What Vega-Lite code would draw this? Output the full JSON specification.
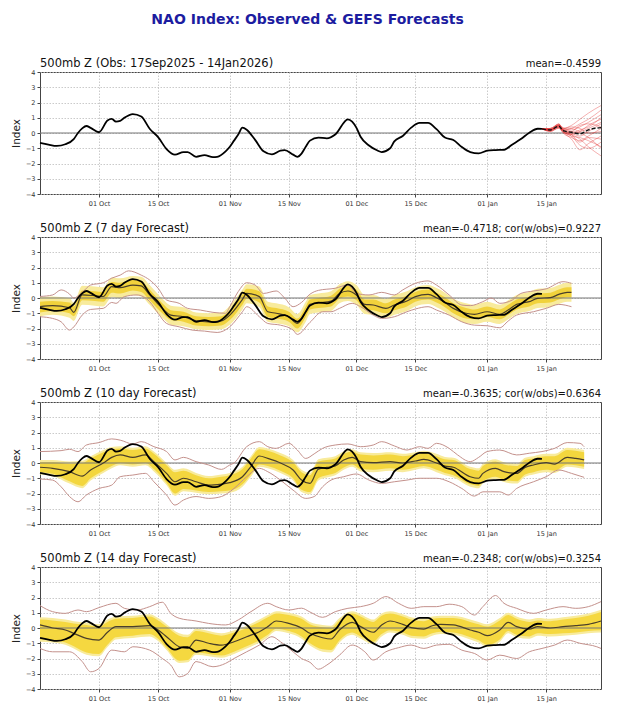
{
"$schema":"https://vega.github.io/schema/vega-lite/v6.json",
"background":"white",
"padding":{"left":10,"top":12,"right":20,"bottom":4},
"title":{"text":"NAO Index: Observed & GEFS Forecasts","anchor":"middle","frame":"bounds","fontSize":14,"fontWeight":"bold","color":"#1c1ca0","offset":31},
"spacing":15,
"config":{
"font":"DejaVu Sans",
"view":{"stroke":"#444","strokeWidth":1},
"axis":{"labelFontSize":6.5,"labelColor":"#333","tickColor":"#444","tickSize":3,"domain":false,"grid":true,"gridColor":"#bdbdbd","gridDash":[1.5,1.5],"gridWidth":0.8,"labelPadding":2},
"axisX":{"labelPadding":3},
"axisY":{"titleFontSize":10.5,"titleFontWeight":"normal","titleColor":"#222","titlePadding":4},
"text":{"color":"#111","baseline":"bottom","dy":-3},
"line":{"interpolate":"monotone"},
"area":{"interpolate":"monotone"}
},
"datasets":{
"obs":[
{"date":"2025-09-17","v":-0.64},{"date":"2025-09-19","v":-0.76},{"date":"2025-09-21","v":-0.85},{"date":"2025-09-23","v":-0.74},{"date":"2025-09-25","v":-0.4},{"date":"2025-09-26","v":0.0},{"date":"2025-09-27","v":0.3},{"date":"2025-09-28","v":0.46},{"date":"2025-09-29","v":0.34},{"date":"2025-10-01","v":0.05},{"date":"2025-10-03","v":0.82},{"date":"2025-10-04","v":0.92},{"date":"2025-10-05","v":0.75},{"date":"2025-10-06","v":0.79},{"date":"2025-10-07","v":1.0},{"date":"2025-10-09","v":1.24},{"date":"2025-10-11","v":1.08},{"date":"2025-10-13","v":0.28},{"date":"2025-10-15","v":-0.27},{"date":"2025-10-17","v":-1.05},{"date":"2025-10-19","v":-1.42},{"date":"2025-10-21","v":-1.25},{"date":"2025-10-22","v":-1.25},{"date":"2025-10-24","v":-1.56},{"date":"2025-10-26","v":-1.45},{"date":"2025-10-28","v":-1.58},{"date":"2025-10-29","v":-1.56},{"date":"2025-10-31","v":-1.2},{"date":"2025-11-01","v":-0.9},{"date":"2025-11-02","v":-0.5},{"date":"2025-11-03","v":-0.1},{"date":"2025-11-04","v":0.35},{"date":"2025-11-05","v":0.22},{"date":"2025-11-07","v":-0.45},{"date":"2025-11-09","v":-1.2},{"date":"2025-11-11","v":-1.4},{"date":"2025-11-13","v":-1.15},{"date":"2025-11-14","v":-1.12},{"date":"2025-11-16","v":-1.42},{"date":"2025-11-17","v":-1.56},{"date":"2025-11-18","v":-1.35},{"date":"2025-11-19","v":-0.9},{"date":"2025-11-20","v":-0.5},{"date":"2025-11-22","v":-0.3},{"date":"2025-11-24","v":-0.35},{"date":"2025-11-26","v":-0.1},{"date":"2025-11-29","v":0.9},{"date":"2025-11-30","v":0.75},{"date":"2025-12-01","v":0.35},{"date":"2025-12-02","v":-0.25},{"date":"2025-12-04","v":-0.82},{"date":"2025-12-06","v":-1.15},{"date":"2025-12-07","v":-1.25},{"date":"2025-12-09","v":-1.0},{"date":"2025-12-10","v":-0.55},{"date":"2025-12-12","v":-0.2},{"date":"2025-12-14","v":0.35},{"date":"2025-12-16","v":0.66},{"date":"2025-12-18","v":0.66},{"date":"2025-12-20","v":0.25},{"date":"2025-12-22","v":-0.3},{"date":"2025-12-24","v":-0.46},{"date":"2025-12-26","v":-0.92},{"date":"2025-12-28","v":-1.25},{"date":"2025-12-30","v":-1.33},{"date":"2026-01-01","v":-1.16},{"date":"2026-01-03","v":-1.12},{"date":"2026-01-05","v":-1.1},{"date":"2026-01-07","v":-0.75},{"date":"2026-01-09","v":-0.4},{"date":"2026-01-11","v":0.02},{"date":"2026-01-13","v":0.28},{"date":"2026-01-14","v":0.27}
],
"labels":[
{"p":"obs","a":"l","t":"500mb Z (Obs: 17Sep2025 - 14Jan2026)","d":"2025-09-17","y":4},
{"p":"obs","a":"r","t":"mean=-0.4599","d":"2026-01-28","y":4},
{"p":"7","a":"l","t":"500mb Z (7 day Forecast)","d":"2025-09-17","y":4},
{"p":"7","a":"r","t":"mean=-0.4718; cor(w/obs)=0.9227","d":"2026-01-28","y":4},
{"p":"10","a":"l","t":"500mb Z (10 day Forecast)","d":"2025-09-17","y":4},
{"p":"10","a":"r","t":"mean=-0.3635; cor(w/obs)=0.6364","d":"2026-01-28","y":4},
{"p":"14","a":"l","t":"500mb Z (14 day Forecast)","d":"2025-09-17","y":4},
{"p":"14","a":"r","t":"mean=-0.2348; cor(w/obs)=0.3254","d":"2026-01-28","y":4}
],
"ens":[
{"m":"1","date":"2026-01-14","v":0.27},{"m":"1","date":"2026-01-16","v":0.25},{"m":"1","date":"2026-01-18","v":0.6},{"m":"1","date":"2026-01-19","v":0.3},{"m":"1","date":"2026-01-21","v":0.5},{"m":"1","date":"2026-01-23","v":0.9},{"m":"1","date":"2026-01-25","v":1.3},{"m":"1","date":"2026-01-28","v":1.8},
{"m":"2","date":"2026-01-14","v":0.27},{"m":"2","date":"2026-01-16","v":0.15},{"m":"2","date":"2026-01-18","v":0.5},{"m":"2","date":"2026-01-19","v":0.2},{"m":"2","date":"2026-01-21","v":0.3},{"m":"2","date":"2026-01-23","v":0.6},{"m":"2","date":"2026-01-25","v":0.9},{"m":"2","date":"2026-01-28","v":1.5},
{"m":"3","date":"2026-01-14","v":0.27},{"m":"3","date":"2026-01-16","v":0.3},{"m":"3","date":"2026-01-18","v":0.55},{"m":"3","date":"2026-01-19","v":0.35},{"m":"3","date":"2026-01-21","v":0.2},{"m":"3","date":"2026-01-23","v":0.4},{"m":"3","date":"2026-01-25","v":0.7},{"m":"3","date":"2026-01-28","v":1.2},
{"m":"4","date":"2026-01-14","v":0.27},{"m":"4","date":"2026-01-16","v":0.2},{"m":"4","date":"2026-01-18","v":0.4},{"m":"4","date":"2026-01-19","v":0.1},{"m":"4","date":"2026-01-21","v":-0.1},{"m":"4","date":"2026-01-23","v":0.1},{"m":"4","date":"2026-01-25","v":0.5},{"m":"4","date":"2026-01-28","v":0.9},
{"m":"5","date":"2026-01-14","v":0.27},{"m":"5","date":"2026-01-16","v":0.1},{"m":"5","date":"2026-01-18","v":0.35},{"m":"5","date":"2026-01-19","v":0.0},{"m":"5","date":"2026-01-21","v":-0.3},{"m":"5","date":"2026-01-23","v":-0.5},{"m":"5","date":"2026-01-25","v":-0.2},{"m":"5","date":"2026-01-28","v":0.3},
{"m":"6","date":"2026-01-14","v":0.27},{"m":"6","date":"2026-01-16","v":0.2},{"m":"6","date":"2026-01-18","v":0.45},{"m":"6","date":"2026-01-19","v":0.2},{"m":"6","date":"2026-01-21","v":0.0},{"m":"6","date":"2026-01-23","v":-0.2},{"m":"6","date":"2026-01-25","v":0.1},{"m":"6","date":"2026-01-28","v":0.6},
{"m":"7","date":"2026-01-14","v":0.27},{"m":"7","date":"2026-01-16","v":0.25},{"m":"7","date":"2026-01-18","v":0.5},{"m":"7","date":"2026-01-19","v":0.1},{"m":"7","date":"2026-01-21","v":-0.2},{"m":"7","date":"2026-01-23","v":-0.8},{"m":"7","date":"2026-01-25","v":-1.0},{"m":"7","date":"2026-01-28","v":-0.6},
{"m":"8","date":"2026-01-14","v":0.27},{"m":"8","date":"2026-01-16","v":0.15},{"m":"8","date":"2026-01-18","v":0.3},{"m":"8","date":"2026-01-19","v":0.05},{"m":"8","date":"2026-01-21","v":-0.4},{"m":"8","date":"2026-01-23","v":-1.1},{"m":"8","date":"2026-01-25","v":-0.7},{"m":"8","date":"2026-01-28","v":-0.2},
{"m":"9","date":"2026-01-14","v":0.27},{"m":"9","date":"2026-01-16","v":0.3},{"m":"9","date":"2026-01-18","v":0.6},{"m":"9","date":"2026-01-19","v":0.25},{"m":"9","date":"2026-01-21","v":0.1},{"m":"9","date":"2026-01-23","v":0.0},{"m":"9","date":"2026-01-25","v":-0.3},{"m":"9","date":"2026-01-28","v":-1.0},
{"m":"10","date":"2026-01-14","v":0.27},{"m":"10","date":"2026-01-16","v":0.2},{"m":"10","date":"2026-01-18","v":0.45},{"m":"10","date":"2026-01-19","v":0.15},{"m":"10","date":"2026-01-21","v":-0.1},{"m":"10","date":"2026-01-23","v":-0.4},{"m":"10","date":"2026-01-25","v":-0.9},{"m":"10","date":"2026-01-28","v":-1.5},
{"m":"11","date":"2026-01-14","v":0.27},{"m":"11","date":"2026-01-16","v":0.2},{"m":"11","date":"2026-01-18","v":0.5},{"m":"11","date":"2026-01-19","v":0.3},{"m":"11","date":"2026-01-21","v":0.4},{"m":"11","date":"2026-01-23","v":0.3},{"m":"11","date":"2026-01-25","v":0.0},{"m":"11","date":"2026-01-28","v":0.1},
{"m":"12","date":"2026-01-14","v":0.27},{"m":"12","date":"2026-01-16","v":0.1},{"m":"12","date":"2026-01-18","v":0.35},{"m":"12","date":"2026-01-19","v":0.2},{"m":"12","date":"2026-01-21","v":0.1},{"m":"12","date":"2026-01-23","v":0.5},{"m":"12","date":"2026-01-25","v":0.6},{"m":"12","date":"2026-01-28","v":0.4},
{"m":"13","date":"2026-01-14","v":0.27},{"m":"13","date":"2026-01-16","v":0.25},{"m":"13","date":"2026-01-18","v":0.55},{"m":"13","date":"2026-01-19","v":0.2},{"m":"13","date":"2026-01-21","v":0.0},{"m":"13","date":"2026-01-23","v":0.2},{"m":"13","date":"2026-01-25","v":0.4},{"m":"13","date":"2026-01-28","v":1.0},
{"m":"14","date":"2026-01-14","v":0.27},{"m":"14","date":"2026-01-16","v":0.2},{"m":"14","date":"2026-01-18","v":0.4},{"m":"14","date":"2026-01-19","v":0.1},{"m":"14","date":"2026-01-21","v":-0.2},{"m":"14","date":"2026-01-23","v":-0.3},{"m":"14","date":"2026-01-25","v":-0.5},{"m":"14","date":"2026-01-28","v":-0.9},
{"m":"15","date":"2026-01-14","v":0.27},{"m":"15","date":"2026-01-16","v":0.3},{"m":"15","date":"2026-01-18","v":0.5},{"m":"15","date":"2026-01-19","v":0.25},{"m":"15","date":"2026-01-21","v":0.3},{"m":"15","date":"2026-01-23","v":0.1},{"m":"15","date":"2026-01-25","v":0.3},{"m":"15","date":"2026-01-28","v":0.7},
{"m":"16","date":"2026-01-14","v":0.27},{"m":"16","date":"2026-01-16","v":0.15},{"m":"16","date":"2026-01-18","v":0.4},{"m":"16","date":"2026-01-19","v":0.1},{"m":"16","date":"2026-01-21","v":-0.1},{"m":"16","date":"2026-01-23","v":-0.6},{"m":"16","date":"2026-01-25","v":-0.3},{"m":"16","date":"2026-01-28","v":-0.4}
],
"ensmean":[
{"date":"2026-01-14","v":0.27},{"date":"2026-01-16","v":0.2},{"date":"2026-01-18","v":0.45},{"date":"2026-01-19","v":0.15},{"date":"2026-01-21","v":0.05},{"date":"2026-01-23","v":-0.05},{"date":"2026-01-25","v":0.2},{"date":"2026-01-28","v":0.35}
],
"band":[
{"p":"7","date":"2025-09-17","mn":-0.57,"lo1":-0.95,"hi1":-0.25,"lo2":-1.2,"hi2":0.05},
{"p":"7","date":"2025-09-20","mn":-0.5,"lo1":-0.85,"hi1":-0.2,"lo2":-1.1,"hi2":0.1},
{"p":"7","date":"2025-09-24","mn":-0.64,"lo1":-1.0,"hi1":-0.3,"lo2":-1.3,"hi2":0.0},
{"p":"7","date":"2025-09-25","mn":-0.94,"lo1":-1.2,"hi1":-0.55,"lo2":-1.5,"hi2":-0.3},
{"p":"7","date":"2025-09-27","mn":0.2,"lo1":-0.15,"hi1":0.5,"lo2":-0.45,"hi2":0.8},
{"p":"7","date":"2025-09-30","mn":0.15,"lo1":-0.2,"hi1":0.45,"lo2":-0.5,"hi2":0.75},
{"p":"7","date":"2025-10-02","mn":0.1,"lo1":-0.25,"hi1":0.4,"lo2":-0.55,"hi2":0.7},
{"p":"7","date":"2025-10-04","mn":0.75,"lo1":0.35,"hi1":1.05,"lo2":0.05,"hi2":1.35},
{"p":"7","date":"2025-10-06","mn":0.68,"lo1":0.3,"hi1":1.0,"lo2":0.0,"hi2":1.3},
{"p":"7","date":"2025-10-09","mn":0.85,"lo1":0.5,"hi1":1.2,"lo2":0.2,"hi2":1.45},
{"p":"7","date":"2025-10-11","mn":0.79,"lo1":0.4,"hi1":1.1,"lo2":0.1,"hi2":1.4},
{"p":"7","date":"2025-10-13","mn":0.2,"lo1":-0.15,"hi1":0.55,"lo2":-0.45,"hi2":0.85},
{"p":"7","date":"2025-10-16","mn":-0.68,"lo1":-1.0,"hi1":-0.35,"lo2":-1.3,"hi2":-0.05},
{"p":"7","date":"2025-10-18","mn":-1.12,"lo1":-1.45,"hi1":-0.8,"lo2":-1.75,"hi2":-0.5},
{"p":"7","date":"2025-10-21","mn":-1.23,"lo1":-1.55,"hi1":-0.9,"lo2":-1.85,"hi2":-0.6},
{"p":"7","date":"2025-10-24","mn":-1.49,"lo1":-1.8,"hi1":-1.2,"lo2":-2.05,"hi2":-0.95},
{"p":"7","date":"2025-10-27","mn":-1.56,"lo1":-1.85,"hi1":-1.25,"lo2":-2.1,"hi2":-1.0},
{"p":"7","date":"2025-10-30","mn":-1.5,"lo1":-1.8,"hi1":-1.2,"lo2":-2.05,"hi2":-0.95},
{"p":"7","date":"2025-11-01","mn":-1.12,"lo1":-1.45,"hi1":-0.8,"lo2":-1.75,"hi2":-0.5},
{"p":"7","date":"2025-11-04","mn":-0.09,"lo1":-0.45,"hi1":0.25,"lo2":-0.75,"hi2":0.55},
{"p":"7","date":"2025-11-05","mn":0.3,"lo1":-0.05,"hi1":0.6,"lo2":-0.35,"hi2":0.9},
{"p":"7","date":"2025-11-08","mn":0.09,"lo1":-0.3,"hi1":0.45,"lo2":-0.6,"hi2":0.75},
{"p":"7","date":"2025-11-10","mn":-0.9,"lo1":-1.25,"hi1":-0.55,"lo2":-1.55,"hi2":-0.25},
{"p":"7","date":"2025-11-12","mn":-1.0,"lo1":-1.35,"hi1":-0.65,"lo2":-1.65,"hi2":-0.35},
{"p":"7","date":"2025-11-15","mn":-1.23,"lo1":-1.55,"hi1":-0.9,"lo2":-1.85,"hi2":-0.6},
{"p":"7","date":"2025-11-17","mn":-1.67,"lo1":-2.0,"hi1":-1.35,"lo2":-2.25,"hi2":-1.05},
{"p":"7","date":"2025-11-19","mn":-0.9,"lo1":-1.25,"hi1":-0.55,"lo2":-1.55,"hi2":-0.25},
{"p":"7","date":"2025-11-20","mn":-0.42,"lo1":-0.75,"hi1":-0.1,"lo2":-1.05,"hi2":0.2},
{"p":"7","date":"2025-11-22","mn":-0.32,"lo1":-0.65,"hi1":0.0,"lo2":-0.95,"hi2":0.3},
{"p":"7","date":"2025-11-25","mn":-0.2,"lo1":-0.55,"hi1":0.15,"lo2":-0.85,"hi2":0.45},
{"p":"7","date":"2025-11-27","mn":0.3,"lo1":-0.05,"hi1":0.6,"lo2":-0.35,"hi2":0.9},
{"p":"7","date":"2025-11-29","mn":0.46,"lo1":0.1,"hi1":0.8,"lo2":-0.2,"hi2":1.1},
{"p":"7","date":"2025-12-01","mn":0.2,"lo1":-0.15,"hi1":0.55,"lo2":-0.45,"hi2":0.85},
{"p":"7","date":"2025-12-03","mn":-0.42,"lo1":-0.75,"hi1":-0.1,"lo2":-1.05,"hi2":0.2},
{"p":"7","date":"2025-12-05","mn":-0.46,"lo1":-0.8,"hi1":-0.1,"lo2":-1.1,"hi2":0.2},
{"p":"7","date":"2025-12-08","mn":-0.68,"lo1":-1.0,"hi1":-0.35,"lo2":-1.3,"hi2":-0.05},
{"p":"7","date":"2025-12-10","mn":-0.46,"lo1":-0.8,"hi1":-0.1,"lo2":-1.1,"hi2":0.2},
{"p":"7","date":"2025-12-13","mn":-0.2,"lo1":-0.55,"hi1":0.15,"lo2":-0.85,"hi2":0.45},
{"p":"7","date":"2025-12-15","mn":0.09,"lo1":-0.25,"hi1":0.4,"lo2":-0.55,"hi2":0.7},
{"p":"7","date":"2025-12-18","mn":0.24,"lo1":-0.1,"hi1":0.55,"lo2":-0.4,"hi2":0.85},
{"p":"7","date":"2025-12-20","mn":0.02,"lo1":-0.3,"hi1":0.35,"lo2":-0.6,"hi2":0.65},
{"p":"7","date":"2025-12-22","mn":-0.29,"lo1":-0.6,"hi1":0.05,"lo2":-0.9,"hi2":0.35},
{"p":"7","date":"2025-12-24","mn":-0.68,"lo1":-1.0,"hi1":-0.35,"lo2":-1.3,"hi2":-0.05},
{"p":"7","date":"2025-12-27","mn":-1.0,"lo1":-1.35,"hi1":-0.65,"lo2":-1.65,"hi2":-0.35},
{"p":"7","date":"2025-12-29","mn":-1.07,"lo1":-1.4,"hi1":-0.75,"lo2":-1.7,"hi2":-0.45},
{"p":"7","date":"2026-01-01","mn":-0.9,"lo1":-1.25,"hi1":-0.55,"lo2":-1.55,"hi2":-0.25},
{"p":"7","date":"2026-01-04","mn":-1.07,"lo1":-1.4,"hi1":-0.75,"lo2":-1.7,"hi2":-0.45},
{"p":"7","date":"2026-01-06","mn":-0.79,"lo1":-1.1,"hi1":-0.45,"lo2":-1.4,"hi2":-0.15},
{"p":"7","date":"2026-01-08","mn":-0.42,"lo1":-0.75,"hi1":-0.1,"lo2":-1.05,"hi2":0.2},
{"p":"7","date":"2026-01-11","mn":-0.24,"lo1":-0.55,"hi1":0.1,"lo2":-0.85,"hi2":0.4},
{"p":"7","date":"2026-01-13","mn":-0.02,"lo1":-0.35,"hi1":0.3,"lo2":-0.65,"hi2":0.6},
{"p":"7","date":"2026-01-16","mn":0.02,"lo1":-0.3,"hi1":0.35,"lo2":-0.6,"hi2":0.65},
{"p":"7","date":"2026-01-18","mn":0.24,"lo1":-0.1,"hi1":0.55,"lo2":-0.4,"hi2":0.85},
{"p":"7","date":"2026-01-20","mn":0.37,"lo1":0.05,"hi1":0.7,"lo2":-0.25,"hi2":1.0},
{"p":"7","date":"2026-01-21","mn":0.37,"lo1":0.05,"hi1":0.7,"lo2":-0.25,"hi2":1.0},
{"p":"10","date":"2025-09-17","mn":-0.28,"lo1":-0.6,"hi1":0.05,"lo2":-0.75,"hi2":0.2},
{"p":"10","date":"2025-09-20","mn":-0.35,"lo1":-0.7,"hi1":0.05,"lo2":-0.85,"hi2":0.2},
{"p":"10","date":"2025-09-24","mn":-0.57,"lo1":-1.2,"hi1":-0.05,"lo2":-1.35,"hi2":0.1},
{"p":"10","date":"2025-09-27","mn":-0.86,"lo1":-1.5,"hi1":0.0,"lo2":-1.65,"hi2":0.15},
{"p":"10","date":"2025-09-29","mn":-0.46,"lo1":-1.0,"hi1":0.3,"lo2":-1.15,"hi2":0.45},
{"p":"10","date":"2025-10-02","mn":0.0,"lo1":-0.5,"hi1":0.7,"lo2":-0.65,"hi2":0.85},
{"p":"10","date":"2025-10-04","mn":0.37,"lo1":-0.2,"hi1":0.9,"lo2":-0.35,"hi2":1.05},
{"p":"10","date":"2025-10-06","mn":0.53,"lo1":0.0,"hi1":0.95,"lo2":-0.15,"hi2":1.1},
{"p":"10","date":"2025-10-09","mn":0.37,"lo1":-0.1,"hi1":0.85,"lo2":-0.25,"hi2":1.0},
{"p":"10","date":"2025-10-12","mn":0.53,"lo1":0.0,"hi1":0.95,"lo2":-0.15,"hi2":1.1},
{"p":"10","date":"2025-10-14","mn":0.09,"lo1":-0.4,"hi1":0.6,"lo2":-0.55,"hi2":0.75},
{"p":"10","date":"2025-10-17","mn":-0.68,"lo1":-1.3,"hi1":-0.15,"lo2":-1.45,"hi2":0.0},
{"p":"10","date":"2025-10-19","mn":-1.23,"lo1":-2.0,"hi1":-0.6,"lo2":-2.15,"hi2":-0.45},
{"p":"10","date":"2025-10-21","mn":-1.0,"lo1":-1.7,"hi1":-0.5,"lo2":-1.85,"hi2":-0.35},
{"p":"10","date":"2025-10-24","mn":-1.23,"lo1":-1.8,"hi1":-0.8,"lo2":-1.95,"hi2":-0.65},
{"p":"10","date":"2025-10-27","mn":-1.45,"lo1":-1.9,"hi1":-1.0,"lo2":-2.05,"hi2":-0.85},
{"p":"10","date":"2025-10-30","mn":-1.38,"lo1":-1.85,"hi1":-0.9,"lo2":-2.0,"hi2":-0.75},
{"p":"10","date":"2025-11-01","mn":-1.29,"lo1":-1.8,"hi1":-0.8,"lo2":-1.95,"hi2":-0.65},
{"p":"10","date":"2025-11-04","mn":-0.9,"lo1":-1.4,"hi1":-0.4,"lo2":-1.55,"hi2":-0.25},
{"p":"10","date":"2025-11-06","mn":-0.24,"lo1":-0.75,"hi1":0.3,"lo2":-0.9,"hi2":0.45},
{"p":"10","date":"2025-11-08","mn":0.46,"lo1":-0.1,"hi1":0.9,"lo2":-0.25,"hi2":1.05},
{"p":"10","date":"2025-11-10","mn":0.3,"lo1":-0.2,"hi1":0.8,"lo2":-0.35,"hi2":0.95},
{"p":"10","date":"2025-11-13","mn":0.0,"lo1":-0.5,"hi1":0.5,"lo2":-0.65,"hi2":0.65},
{"p":"10","date":"2025-11-16","mn":-0.46,"lo1":-1.0,"hi1":0.05,"lo2":-1.15,"hi2":0.2},
{"p":"10","date":"2025-11-18","mn":-1.12,"lo1":-1.75,"hi1":-0.6,"lo2":-1.9,"hi2":-0.45},
{"p":"10","date":"2025-11-20","mn":-1.34,"lo1":-1.9,"hi1":-0.8,"lo2":-2.05,"hi2":-0.65},
{"p":"10","date":"2025-11-22","mn":-0.4,"lo1":-1.0,"hi1":0.1,"lo2":-1.15,"hi2":0.25},
{"p":"10","date":"2025-11-24","mn":-0.29,"lo1":-0.8,"hi1":0.2,"lo2":-0.95,"hi2":0.35},
{"p":"10","date":"2025-11-26","mn":-0.2,"lo1":-0.65,"hi1":0.3,"lo2":-0.8,"hi2":0.45},
{"p":"10","date":"2025-11-28","mn":0.2,"lo1":-0.3,"hi1":0.6,"lo2":-0.45,"hi2":0.75},
{"p":"10","date":"2025-11-30","mn":0.37,"lo1":-0.1,"hi1":0.75,"lo2":-0.25,"hi2":0.9},
{"p":"10","date":"2025-12-02","mn":0.09,"lo1":-0.4,"hi1":0.55,"lo2":-0.55,"hi2":0.7},
{"p":"10","date":"2025-12-05","mn":0.02,"lo1":-0.45,"hi1":0.5,"lo2":-0.6,"hi2":0.65},
{"p":"10","date":"2025-12-09","mn":0.09,"lo1":-0.35,"hi1":0.55,"lo2":-0.5,"hi2":0.7},
{"p":"10","date":"2025-12-12","mn":0.0,"lo1":-0.45,"hi1":0.45,"lo2":-0.6,"hi2":0.6},
{"p":"10","date":"2025-12-15","mn":0.13,"lo1":-0.3,"hi1":0.55,"lo2":-0.45,"hi2":0.7},
{"p":"10","date":"2025-12-17","mn":0.24,"lo1":-0.2,"hi1":0.65,"lo2":-0.35,"hi2":0.8},
{"p":"10","date":"2025-12-20","mn":0.0,"lo1":-0.45,"hi1":0.45,"lo2":-0.6,"hi2":0.6},
{"p":"10","date":"2025-12-22","mn":-0.2,"lo1":-0.65,"hi1":0.25,"lo2":-0.8,"hi2":0.4},
{"p":"10","date":"2025-12-24","mn":-0.28,"lo1":-0.8,"hi1":0.2,"lo2":-0.95,"hi2":0.35},
{"p":"10","date":"2025-12-28","mn":-0.9,"lo1":-1.4,"hi1":-0.4,"lo2":-1.55,"hi2":-0.25},
{"p":"10","date":"2025-12-30","mn":-1.0,"lo1":-1.5,"hi1":-0.5,"lo2":-1.65,"hi2":-0.35},
{"p":"10","date":"2025-12-31","mn":-0.68,"lo1":-1.2,"hi1":-0.2,"lo2":-1.35,"hi2":-0.05},
{"p":"10","date":"2026-01-03","mn":-0.35,"lo1":-0.9,"hi1":0.1,"lo2":-1.05,"hi2":0.25},
{"p":"10","date":"2026-01-05","mn":-0.57,"lo1":-1.1,"hi1":-0.1,"lo2":-1.25,"hi2":0.05},
{"p":"10","date":"2026-01-08","mn":-0.68,"lo1":-1.2,"hi1":-0.2,"lo2":-1.35,"hi2":-0.05},
{"p":"10","date":"2026-01-10","mn":-0.29,"lo1":-0.75,"hi1":0.2,"lo2":-0.9,"hi2":0.35},
{"p":"10","date":"2026-01-12","mn":-0.13,"lo1":-0.6,"hi1":0.3,"lo2":-0.75,"hi2":0.45},
{"p":"10","date":"2026-01-15","mn":0.02,"lo1":-0.45,"hi1":0.45,"lo2":-0.6,"hi2":0.6},
{"p":"10","date":"2026-01-17","mn":-0.07,"lo1":-0.5,"hi1":0.45,"lo2":-0.65,"hi2":0.6},
{"p":"10","date":"2026-01-20","mn":0.37,"lo1":-0.1,"hi1":0.85,"lo2":-0.25,"hi2":1.0},
{"p":"10","date":"2026-01-22","mn":0.3,"lo1":-0.15,"hi1":0.8,"lo2":-0.3,"hi2":0.95},
{"p":"10","date":"2026-01-24","mn":0.2,"lo1":-0.25,"hi1":0.7,"lo2":-0.4,"hi2":0.85},
{"p":"14","date":"2025-09-17","mn":0.2,"lo1":-0.75,"hi1":0.55,"lo2":-0.9,"hi2":0.7},
{"p":"14","date":"2025-09-20","mn":0.0,"lo1":-0.8,"hi1":0.5,"lo2":-0.95,"hi2":0.65},
{"p":"14","date":"2025-09-23","mn":-0.13,"lo1":-0.95,"hi1":0.4,"lo2":-1.1,"hi2":0.55},
{"p":"14","date":"2025-09-25","mn":-0.35,"lo1":-1.2,"hi1":0.3,"lo2":-1.35,"hi2":0.45},
{"p":"14","date":"2025-09-28","mn":-0.68,"lo1":-1.6,"hi1":0.2,"lo2":-1.75,"hi2":0.35},
{"p":"14","date":"2025-10-01","mn":-0.79,"lo1":-1.7,"hi1":0.1,"lo2":-1.85,"hi2":0.25},
{"p":"14","date":"2025-10-03","mn":-0.28,"lo1":-1.1,"hi1":0.4,"lo2":-1.25,"hi2":0.55},
{"p":"14","date":"2025-10-05","mn":0.09,"lo1":-0.6,"hi1":0.6,"lo2":-0.75,"hi2":0.75},
{"p":"14","date":"2025-10-09","mn":0.09,"lo1":-0.5,"hi1":0.65,"lo2":-0.65,"hi2":0.8},
{"p":"14","date":"2025-10-13","mn":0.15,"lo1":-0.4,"hi1":0.75,"lo2":-0.55,"hi2":0.9},
{"p":"14","date":"2025-10-15","mn":-0.13,"lo1":-0.7,"hi1":0.5,"lo2":-0.85,"hi2":0.65},
{"p":"14","date":"2025-10-17","mn":-0.57,"lo1":-1.3,"hi1":0.1,"lo2":-1.45,"hi2":0.25},
{"p":"14","date":"2025-10-20","mn":-1.23,"lo1":-2.15,"hi1":-0.5,"lo2":-2.3,"hi2":-0.35},
{"p":"14","date":"2025-10-22","mn":-1.34,"lo1":-2.1,"hi1":-0.6,"lo2":-2.25,"hi2":-0.45},
{"p":"14","date":"2025-10-24","mn":-0.79,"lo1":-1.6,"hi1":-0.2,"lo2":-1.75,"hi2":-0.05},
{"p":"14","date":"2025-10-27","mn":-1.0,"lo1":-1.7,"hi1":-0.35,"lo2":-1.85,"hi2":-0.2},
{"p":"14","date":"2025-10-30","mn":-1.12,"lo1":-1.8,"hi1":-0.5,"lo2":-1.95,"hi2":-0.35},
{"p":"14","date":"2025-11-02","mn":-0.9,"lo1":-1.55,"hi1":-0.3,"lo2":-1.7,"hi2":-0.15},
{"p":"14","date":"2025-11-05","mn":-0.57,"lo1":-1.2,"hi1":0.0,"lo2":-1.35,"hi2":0.15},
{"p":"14","date":"2025-11-08","mn":-0.24,"lo1":-0.8,"hi1":0.4,"lo2":-0.95,"hi2":0.55},
{"p":"14","date":"2025-11-10","mn":0.09,"lo1":-0.45,"hi1":0.7,"lo2":-0.6,"hi2":0.85},
{"p":"14","date":"2025-11-12","mn":0.46,"lo1":-0.05,"hi1":0.95,"lo2":-0.2,"hi2":1.1},
{"p":"14","date":"2025-11-15","mn":0.3,"lo1":-0.2,"hi1":0.85,"lo2":-0.35,"hi2":1.0},
{"p":"14","date":"2025-11-18","mn":0.0,"lo1":-0.55,"hi1":0.6,"lo2":-0.7,"hi2":0.75},
{"p":"14","date":"2025-11-20","mn":-0.35,"lo1":-1.0,"hi1":0.25,"lo2":-1.15,"hi2":0.4},
{"p":"14","date":"2025-11-23","mn":-0.64,"lo1":-1.4,"hi1":0.05,"lo2":-1.55,"hi2":0.2},
{"p":"14","date":"2025-11-25","mn":-0.72,"lo1":-1.45,"hi1":0.0,"lo2":-1.6,"hi2":0.15},
{"p":"14","date":"2025-11-27","mn":-0.13,"lo1":-0.8,"hi1":0.5,"lo2":-0.95,"hi2":0.65},
{"p":"14","date":"2025-11-30","mn":0.37,"lo1":-0.3,"hi1":0.95,"lo2":-0.45,"hi2":1.1},
{"p":"14","date":"2025-12-02","mn":0.09,"lo1":-0.55,"hi1":0.75,"lo2":-0.7,"hi2":0.9},
{"p":"14","date":"2025-12-05","mn":-0.28,"lo1":-0.9,"hi1":0.4,"lo2":-1.05,"hi2":0.55},
{"p":"14","date":"2025-12-07","mn":0.2,"lo1":-0.4,"hi1":0.8,"lo2":-0.55,"hi2":0.95},
{"p":"14","date":"2025-12-09","mn":0.46,"lo1":-0.15,"hi1":0.95,"lo2":-0.3,"hi2":1.1},
{"p":"14","date":"2025-12-12","mn":0.24,"lo1":-0.3,"hi1":0.75,"lo2":-0.45,"hi2":0.9},
{"p":"14","date":"2025-12-14","mn":0.02,"lo1":-0.5,"hi1":0.55,"lo2":-0.65,"hi2":0.7},
{"p":"14","date":"2025-12-17","mn":-0.07,"lo1":-0.55,"hi1":0.45,"lo2":-0.7,"hi2":0.6},
{"p":"14","date":"2025-12-19","mn":0.15,"lo1":-0.35,"hi1":0.6,"lo2":-0.5,"hi2":0.75},
{"p":"14","date":"2025-12-21","mn":0.24,"lo1":-0.25,"hi1":0.65,"lo2":-0.4,"hi2":0.8},
{"p":"14","date":"2025-12-24","mn":0.2,"lo1":-0.3,"hi1":0.65,"lo2":-0.45,"hi2":0.8},
{"p":"14","date":"2025-12-28","mn":-0.13,"lo1":-0.6,"hi1":0.4,"lo2":-0.75,"hi2":0.55},
{"p":"14","date":"2025-12-30","mn":-0.28,"lo1":-0.8,"hi1":0.25,"lo2":-0.95,"hi2":0.4},
{"p":"14","date":"2026-01-01","mn":-0.5,"lo1":-1.1,"hi1":0.1,"lo2":-1.25,"hi2":0.25},
{"p":"14","date":"2026-01-04","mn":-0.13,"lo1":-0.75,"hi1":0.5,"lo2":-0.9,"hi2":0.65},
{"p":"14","date":"2026-01-06","mn":0.37,"lo1":-0.2,"hi1":0.85,"lo2":-0.35,"hi2":1.0},
{"p":"14","date":"2026-01-08","mn":0.09,"lo1":-0.45,"hi1":0.6,"lo2":-0.6,"hi2":0.75},
{"p":"14","date":"2026-01-11","mn":-0.07,"lo1":-0.55,"hi1":0.4,"lo2":-0.7,"hi2":0.55},
{"p":"14","date":"2026-01-13","mn":0.09,"lo1":-0.35,"hi1":0.5,"lo2":-0.5,"hi2":0.65},
{"p":"14","date":"2026-01-16","mn":0.0,"lo1":-0.4,"hi1":0.45,"lo2":-0.55,"hi2":0.6},
{"p":"14","date":"2026-01-19","mn":0.09,"lo1":-0.35,"hi1":0.55,"lo2":-0.5,"hi2":0.7},
{"p":"14","date":"2026-01-22","mn":0.15,"lo1":-0.3,"hi1":0.65,"lo2":-0.45,"hi2":0.8},
{"p":"14","date":"2026-01-25","mn":0.24,"lo1":-0.2,"hi1":0.8,"lo2":-0.35,"hi2":0.95},
{"p":"14","date":"2026-01-28","mn":0.46,"lo1":-0.15,"hi1":1.05,"lo2":-0.3,"hi2":1.2}
],
"red":[
{"p":"7","s":"mx","date":"2025-09-17","v":0.1},{"p":"7","s":"mx","date":"2025-09-20","v":0.2},{"p":"7","s":"mx","date":"2025-09-22","v":0.53},{"p":"7","s":"mx","date":"2025-09-24","v":0.26},{"p":"7","s":"mx","date":"2025-09-25","v":0.0},{"p":"7","s":"mx","date":"2025-09-27","v":0.37},{"p":"7","s":"mx","date":"2025-09-29","v":0.85},{"p":"7","s":"mx","date":"2025-10-02","v":1.0},{"p":"7","s":"mx","date":"2025-10-04","v":1.3},{"p":"7","s":"mx","date":"2025-10-06","v":1.5},{"p":"7","s":"mx","date":"2025-10-08","v":1.78},{"p":"7","s":"mx","date":"2025-10-11","v":1.5},{"p":"7","s":"mx","date":"2025-10-13","v":1.18},{"p":"7","s":"mx","date":"2025-10-15","v":0.64},{"p":"7","s":"mx","date":"2025-10-17","v":-0.13},{"p":"7","s":"mx","date":"2025-10-20","v":-0.35},{"p":"7","s":"mx","date":"2025-10-22","v":-0.68},{"p":"7","s":"mx","date":"2025-10-25","v":-0.79},{"p":"7","s":"mx","date":"2025-10-28","v":-0.94},{"p":"7","s":"mx","date":"2025-10-31","v":-1.0},{"p":"7","s":"mx","date":"2025-11-01","v":-0.57},{"p":"7","s":"mx","date":"2025-11-03","v":0.42},{"p":"7","s":"mx","date":"2025-11-05","v":1.0},{"p":"7","s":"mx","date":"2025-11-07","v":0.85},{"p":"7","s":"mx","date":"2025-11-09","v":0.3},{"p":"7","s":"mx","date":"2025-11-12","v":0.46},{"p":"7","s":"mx","date":"2025-11-14","v":0.0},{"p":"7","s":"mx","date":"2025-11-16","v":-0.57},{"p":"7","s":"mx","date":"2025-11-18","v":-0.29},{"p":"7","s":"mx","date":"2025-11-20","v":0.25},{"p":"7","s":"mx","date":"2025-11-22","v":0.5},{"p":"7","s":"mx","date":"2025-11-26","v":0.64},{"p":"7","s":"mx","date":"2025-11-29","v":0.85},{"p":"7","s":"mx","date":"2025-12-01","v":0.3},{"p":"7","s":"mx","date":"2025-12-04","v":0.2},{"p":"7","s":"mx","date":"2025-12-07","v":0.37},{"p":"7","s":"mx","date":"2025-12-10","v":0.2},{"p":"7","s":"mx","date":"2025-12-12","v":0.53},{"p":"7","s":"mx","date":"2025-12-15","v":0.96},{"p":"7","s":"mx","date":"2025-12-18","v":1.12},{"p":"7","s":"mx","date":"2025-12-20","v":0.85},{"p":"7","s":"mx","date":"2025-12-23","v":0.2},{"p":"7","s":"mx","date":"2025-12-26","v":-0.46},{"p":"7","s":"mx","date":"2025-12-28","v":-0.5},{"p":"7","s":"mx","date":"2025-12-31","v":-0.24},{"p":"7","s":"mx","date":"2026-01-02","v":0.0},{"p":"7","s":"mx","date":"2026-01-04","v":-0.35},{"p":"7","s":"mx","date":"2026-01-07","v":-0.13},{"p":"7","s":"mx","date":"2026-01-09","v":0.3},{"p":"7","s":"mx","date":"2026-01-12","v":0.46},{"p":"7","s":"mx","date":"2026-01-15","v":0.6},{"p":"7","s":"mx","date":"2026-01-19","v":1.07},{"p":"7","s":"mx","date":"2026-01-21","v":0.96},
{"p":"7","s":"mi","date":"2025-09-17","v":-1.23},{"p":"7","s":"mi","date":"2025-09-20","v":-1.34},{"p":"7","s":"mi","date":"2025-09-22","v":-1.56},{"p":"7","s":"mi","date":"2025-09-24","v":-2.1},{"p":"7","s":"mi","date":"2025-09-25","v":-1.9},{"p":"7","s":"mi","date":"2025-09-27","v":-1.12},{"p":"7","s":"mi","date":"2025-09-29","v":-0.75},{"p":"7","s":"mi","date":"2025-10-02","v":-0.68},{"p":"7","s":"mi","date":"2025-10-04","v":-0.29},{"p":"7","s":"mi","date":"2025-10-05","v":-0.35},{"p":"7","s":"mi","date":"2025-10-07","v":0.09},{"p":"7","s":"mi","date":"2025-10-10","v":0.2},{"p":"7","s":"mi","date":"2025-10-13","v":-0.24},{"p":"7","s":"mi","date":"2025-10-15","v":-1.0},{"p":"7","s":"mi","date":"2025-10-17","v":-1.67},{"p":"7","s":"mi","date":"2025-10-20","v":-1.89},{"p":"7","s":"mi","date":"2025-10-23","v":-2.1},{"p":"7","s":"mi","date":"2025-10-26","v":-2.17},{"p":"7","s":"mi","date":"2025-10-29","v":-2.26},{"p":"7","s":"mi","date":"2025-11-01","v":-1.89},{"p":"7","s":"mi","date":"2025-11-04","v":-0.9},{"p":"7","s":"mi","date":"2025-11-05","v":-0.57},{"p":"7","s":"mi","date":"2025-11-08","v":-1.23},{"p":"7","s":"mi","date":"2025-11-10","v":-1.67},{"p":"7","s":"mi","date":"2025-11-13","v":-1.78},{"p":"7","s":"mi","date":"2025-11-16","v":-2.1},{"p":"7","s":"mi","date":"2025-11-17","v":-2.39},{"p":"7","s":"mi","date":"2025-11-20","v":-1.6},{"p":"7","s":"mi","date":"2025-11-23","v":-0.9},{"p":"7","s":"mi","date":"2025-11-25","v":-0.9},{"p":"7","s":"mi","date":"2025-11-27","v":-0.68},{"p":"7","s":"mi","date":"2025-11-30","v":-0.35},{"p":"7","s":"mi","date":"2025-12-02","v":-0.57},{"p":"7","s":"mi","date":"2025-12-05","v":-1.12},{"p":"7","s":"mi","date":"2025-12-07","v":-1.34},{"p":"7","s":"mi","date":"2025-12-10","v":-1.23},{"p":"7","s":"mi","date":"2025-12-13","v":-0.9},{"p":"7","s":"mi","date":"2025-12-15","v":-0.72},{"p":"7","s":"mi","date":"2025-12-18","v":-0.57},{"p":"7","s":"mi","date":"2025-12-20","v":-0.79},{"p":"7","s":"mi","date":"2025-12-23","v":-1.12},{"p":"7","s":"mi","date":"2025-12-26","v":-1.56},{"p":"7","s":"mi","date":"2025-12-29","v":-1.78},{"p":"7","s":"mi","date":"2026-01-01","v":-1.82},{"p":"7","s":"mi","date":"2026-01-04","v":-1.95},{"p":"7","s":"mi","date":"2026-01-06","v":-1.51},{"p":"7","s":"mi","date":"2026-01-08","v":-1.12},{"p":"7","s":"mi","date":"2026-01-12","v":-0.9},{"p":"7","s":"mi","date":"2026-01-15","v":-0.68},{"p":"7","s":"mi","date":"2026-01-18","v":-0.42},{"p":"7","s":"mi","date":"2026-01-21","v":-0.57},
{"p":"10","s":"mx","date":"2025-09-17","v":0.75},{"p":"10","s":"mx","date":"2025-09-22","v":0.81},{"p":"10","s":"mx","date":"2025-09-24","v":0.9},{"p":"10","s":"mx","date":"2025-09-26","v":0.75},{"p":"10","s":"mx","date":"2025-09-28","v":1.18},{"p":"10","s":"mx","date":"2025-10-01","v":1.34},{"p":"10","s":"mx","date":"2025-10-04","v":1.58},{"p":"10","s":"mx","date":"2025-10-06","v":1.5},{"p":"10","s":"mx","date":"2025-10-09","v":1.25},{"p":"10","s":"mx","date":"2025-10-11","v":1.4},{"p":"10","s":"mx","date":"2025-10-14","v":1.07},{"p":"10","s":"mx","date":"2025-10-17","v":0.75},{"p":"10","s":"mx","date":"2025-10-19","v":0.2},{"p":"10","s":"mx","date":"2025-10-21","v":0.37},{"p":"10","s":"mx","date":"2025-10-24","v":0.09},{"p":"10","s":"mx","date":"2025-10-27","v":-0.13},{"p":"10","s":"mx","date":"2025-10-30","v":-0.42},{"p":"10","s":"mx","date":"2025-11-01","v":-0.13},{"p":"10","s":"mx","date":"2025-11-02","v":0.0},{"p":"10","s":"mx","date":"2025-11-05","v":1.07},{"p":"10","s":"mx","date":"2025-11-08","v":1.4},{"p":"10","s":"mx","date":"2025-11-10","v":1.07},{"p":"10","s":"mx","date":"2025-11-12","v":0.96},{"p":"10","s":"mx","date":"2025-11-15","v":1.29},{"p":"10","s":"mx","date":"2025-11-17","v":0.85},{"p":"10","s":"mx","date":"2025-11-19","v":0.3},{"p":"10","s":"mx","date":"2025-11-21","v":0.6},{"p":"10","s":"mx","date":"2025-11-23","v":0.96},{"p":"10","s":"mx","date":"2025-11-26","v":1.18},{"p":"10","s":"mx","date":"2025-11-29","v":1.25},{"p":"10","s":"mx","date":"2025-12-02","v":1.07},{"p":"10","s":"mx","date":"2025-12-05","v":1.18},{"p":"10","s":"mx","date":"2025-12-07","v":1.4},{"p":"10","s":"mx","date":"2025-12-10","v":1.12},{"p":"10","s":"mx","date":"2025-12-13","v":0.85},{"p":"10","s":"mx","date":"2025-12-16","v":1.07},{"p":"10","s":"mx","date":"2025-12-18","v":0.96},{"p":"10","s":"mx","date":"2025-12-20","v":1.29},{"p":"10","s":"mx","date":"2025-12-23","v":0.96},{"p":"10","s":"mx","date":"2025-12-25","v":0.53},{"p":"10","s":"mx","date":"2025-12-28","v":0.09},{"p":"10","s":"mx","date":"2025-12-30","v":0.37},{"p":"10","s":"mx","date":"2026-01-01","v":0.75},{"p":"10","s":"mx","date":"2026-01-04","v":0.85},{"p":"10","s":"mx","date":"2026-01-08","v":0.53},{"p":"10","s":"mx","date":"2026-01-11","v":0.64},{"p":"10","s":"mx","date":"2026-01-14","v":0.75},{"p":"10","s":"mx","date":"2026-01-17","v":0.96},{"p":"10","s":"mx","date":"2026-01-20","v":1.34},{"p":"10","s":"mx","date":"2026-01-23","v":1.29},{"p":"10","s":"mx","date":"2026-01-24","v":1.07},
{"p":"10","s":"mi","date":"2025-09-17","v":-1.05},{"p":"10","s":"mi","date":"2025-09-20","v":-1.12},{"p":"10","s":"mi","date":"2025-09-22","v":-1.56},{"p":"10","s":"mi","date":"2025-09-24","v":-2.2},{"p":"10","s":"mi","date":"2025-09-26","v":-2.54},{"p":"10","s":"mi","date":"2025-09-28","v":-2.1},{"p":"10","s":"mi","date":"2025-10-01","v":-1.67},{"p":"10","s":"mi","date":"2025-10-04","v":-1.45},{"p":"10","s":"mi","date":"2025-10-06","v":-0.9},{"p":"10","s":"mi","date":"2025-10-09","v":-0.79},{"p":"10","s":"mi","date":"2025-10-12","v":-0.68},{"p":"10","s":"mi","date":"2025-10-14","v":-1.23},{"p":"10","s":"mi","date":"2025-10-17","v":-2.1},{"p":"10","s":"mi","date":"2025-10-19","v":-2.76},{"p":"10","s":"mi","date":"2025-10-21","v":-2.43},{"p":"10","s":"mi","date":"2025-10-24","v":-2.2},{"p":"10","s":"mi","date":"2025-10-27","v":-2.32},{"p":"10","s":"mi","date":"2025-10-30","v":-2.2},{"p":"10","s":"mi","date":"2025-11-02","v":-1.67},{"p":"10","s":"mi","date":"2025-11-05","v":-0.9},{"p":"10","s":"mi","date":"2025-11-08","v":-0.35},{"p":"10","s":"mi","date":"2025-11-10","v":-0.57},{"p":"10","s":"mi","date":"2025-11-13","v":-1.12},{"p":"10","s":"mi","date":"2025-11-16","v":-1.78},{"p":"10","s":"mi","date":"2025-11-19","v":-2.32},{"p":"10","s":"mi","date":"2025-11-21","v":-2.2},{"p":"10","s":"mi","date":"2025-11-23","v":-1.56},{"p":"10","s":"mi","date":"2025-11-25","v":-1.12},{"p":"10","s":"mi","date":"2025-11-28","v":-0.9},{"p":"10","s":"mi","date":"2025-12-01","v":-0.72},{"p":"10","s":"mi","date":"2025-12-04","v":-1.12},{"p":"10","s":"mi","date":"2025-12-07","v":-1.34},{"p":"10","s":"mi","date":"2025-12-10","v":-1.23},{"p":"10","s":"mi","date":"2025-12-13","v":-1.12},{"p":"10","s":"mi","date":"2025-12-16","v":-1.0},{"p":"10","s":"mi","date":"2025-12-20","v":-1.0},{"p":"10","s":"mi","date":"2025-12-23","v":-1.23},{"p":"10","s":"mi","date":"2025-12-26","v":-1.67},{"p":"10","s":"mi","date":"2025-12-29","v":-2.17},{"p":"10","s":"mi","date":"2025-12-31","v":-1.89},{"p":"10","s":"mi","date":"2026-01-04","v":-1.89},{"p":"10","s":"mi","date":"2026-01-06","v":-2.1},{"p":"10","s":"mi","date":"2026-01-08","v":-1.67},{"p":"10","s":"mi","date":"2026-01-12","v":-1.23},{"p":"10","s":"mi","date":"2026-01-15","v":-0.9},{"p":"10","s":"mi","date":"2026-01-18","v":-0.46},{"p":"10","s":"mi","date":"2026-01-21","v":-0.68},{"p":"10","s":"mi","date":"2026-01-24","v":-0.94},
{"p":"14","s":"mx","date":"2025-09-17","v":1.47},{"p":"14","s":"mx","date":"2025-09-20","v":1.07},{"p":"14","s":"mx","date":"2025-09-23","v":0.96},{"p":"14","s":"mx","date":"2025-09-26","v":1.18},{"p":"14","s":"mx","date":"2025-09-28","v":1.07},{"p":"14","s":"mx","date":"2025-10-01","v":1.34},{"p":"14","s":"mx","date":"2025-10-05","v":1.62},{"p":"14","s":"mx","date":"2025-10-07","v":1.29},{"p":"14","s":"mx","date":"2025-10-10","v":1.18},{"p":"14","s":"mx","date":"2025-10-13","v":1.4},{"p":"14","s":"mx","date":"2025-10-16","v":1.69},{"p":"14","s":"mx","date":"2025-10-18","v":0.96},{"p":"14","s":"mx","date":"2025-10-20","v":0.64},{"p":"14","s":"mx","date":"2025-10-24","v":0.46},{"p":"14","s":"mx","date":"2025-10-27","v":0.3},{"p":"14","s":"mx","date":"2025-10-31","v":0.2},{"p":"14","s":"mx","date":"2025-11-03","v":0.53},{"p":"14","s":"mx","date":"2025-11-06","v":1.07},{"p":"14","s":"mx","date":"2025-11-10","v":1.62},{"p":"14","s":"mx","date":"2025-11-12","v":1.4},{"p":"14","s":"mx","date":"2025-11-15","v":1.18},{"p":"14","s":"mx","date":"2025-11-18","v":1.3},{"p":"14","s":"mx","date":"2025-11-20","v":1.05},{"p":"14","s":"mx","date":"2025-11-23","v":0.7},{"p":"14","s":"mx","date":"2025-11-26","v":1.07},{"p":"14","s":"mx","date":"2025-11-29","v":1.29},{"p":"14","s":"mx","date":"2025-12-02","v":1.4},{"p":"14","s":"mx","date":"2025-12-05","v":1.62},{"p":"14","s":"mx","date":"2025-12-08","v":2.06},{"p":"14","s":"mx","date":"2025-12-11","v":1.62},{"p":"14","s":"mx","date":"2025-12-14","v":1.29},{"p":"14","s":"mx","date":"2025-12-17","v":1.4},{"p":"14","s":"mx","date":"2025-12-20","v":1.4},{"p":"14","s":"mx","date":"2025-12-23","v":1.56},{"p":"14","s":"mx","date":"2025-12-26","v":1.4},{"p":"14","s":"mx","date":"2025-12-29","v":0.85},{"p":"14","s":"mx","date":"2025-12-31","v":1.4},{"p":"14","s":"mx","date":"2026-01-03","v":2.13},{"p":"14","s":"mx","date":"2026-01-05","v":1.62},{"p":"14","s":"mx","date":"2026-01-08","v":1.29},{"p":"14","s":"mx","date":"2026-01-12","v":0.96},{"p":"14","s":"mx","date":"2026-01-15","v":1.18},{"p":"14","s":"mx","date":"2026-01-19","v":1.4},{"p":"14","s":"mx","date":"2026-01-22","v":1.29},{"p":"14","s":"mx","date":"2026-01-25","v":1.4},{"p":"14","s":"mx","date":"2026-01-28","v":1.73},
{"p":"14","s":"mi","date":"2025-09-17","v":-1.34},{"p":"14","s":"mi","date":"2025-09-20","v":-1.56},{"p":"14","s":"mi","date":"2025-09-24","v":-1.56},{"p":"14","s":"mi","date":"2025-09-27","v":-2.2},{"p":"14","s":"mi","date":"2025-09-29","v":-2.87},{"p":"14","s":"mi","date":"2025-10-01","v":-2.65},{"p":"14","s":"mi","date":"2025-10-04","v":-1.45},{"p":"14","s":"mi","date":"2025-10-07","v":-1.56},{"p":"14","s":"mi","date":"2025-10-09","v":-1.23},{"p":"14","s":"mi","date":"2025-10-13","v":-1.45},{"p":"14","s":"mi","date":"2025-10-16","v":-2.0},{"p":"14","s":"mi","date":"2025-10-18","v":-2.43},{"p":"14","s":"mi","date":"2025-10-20","v":-3.2},{"p":"14","s":"mi","date":"2025-10-22","v":-2.98},{"p":"14","s":"mi","date":"2025-10-24","v":-2.2},{"p":"14","s":"mi","date":"2025-10-28","v":-2.54},{"p":"14","s":"mi","date":"2025-10-31","v":-2.32},{"p":"14","s":"mi","date":"2025-11-02","v":-2.0},{"p":"14","s":"mi","date":"2025-11-05","v":-1.56},{"p":"14","s":"mi","date":"2025-11-08","v":-1.12},{"p":"14","s":"mi","date":"2025-11-11","v":-0.57},{"p":"14","s":"mi","date":"2025-11-13","v":-0.9},{"p":"14","s":"mi","date":"2025-11-16","v":-1.56},{"p":"14","s":"mi","date":"2025-11-18","v":-2.0},{"p":"14","s":"mi","date":"2025-11-20","v":-2.25},{"p":"14","s":"mi","date":"2025-11-22","v":-2.7},{"p":"14","s":"mi","date":"2025-11-24","v":-2.43},{"p":"14","s":"mi","date":"2025-11-27","v":-1.78},{"p":"14","s":"mi","date":"2025-11-30","v":-1.12},{"p":"14","s":"mi","date":"2025-12-03","v":-1.56},{"p":"14","s":"mi","date":"2025-12-05","v":-2.1},{"p":"14","s":"mi","date":"2025-12-08","v":-1.56},{"p":"14","s":"mi","date":"2025-12-11","v":-1.29},{"p":"14","s":"mi","date":"2025-12-14","v":-1.12},{"p":"14","s":"mi","date":"2025-12-17","v":-1.34},{"p":"14","s":"mi","date":"2025-12-20","v":-1.12},{"p":"14","s":"mi","date":"2025-12-23","v":-1.07},{"p":"14","s":"mi","date":"2025-12-26","v":-1.45},{"p":"14","s":"mi","date":"2025-12-29","v":-1.67},{"p":"14","s":"mi","date":"2026-01-01","v":-2.1},{"p":"14","s":"mi","date":"2026-01-04","v":-1.78},{"p":"14","s":"mi","date":"2026-01-08","v":-2.0},{"p":"14","s":"mi","date":"2026-01-11","v":-1.56},{"p":"14","s":"mi","date":"2026-01-14","v":-1.34},{"p":"14","s":"mi","date":"2026-01-17","v":-1.12},{"p":"14","s":"mi","date":"2026-01-20","v":-0.79},{"p":"14","s":"mi","date":"2026-01-23","v":-1.0},{"p":"14","s":"mi","date":"2026-01-27","v":-1.23},{"p":"14","s":"mi","date":"2026-01-28","v":-1.34}
]
},
"vconcat":[
{
"width":561,"height":122,
"layer":[
{"data":{"values":[{}]},"mark":{"type":"rule","color":"#777","strokeWidth":1},"encoding":{"y":{"datum":0,"type":"quantitative","scale":{"domain":[-4,4],"nice":false},"axis":{"title":"Index","values":[-4,-3,-2,-1,0,1,2,3,4]}}}},
{"data":{"name":"ens"},"mark":{"type":"line","color":"#e02020","opacity":0.42,"strokeWidth":0.85},"encoding":{"x":{"field":"date","type":"temporal","scale":{"type":"utc","nice":false,"domain":[{"year":2025,"month":9,"date":17,"utc":true},{"year":2026,"month":1,"date":28,"utc":true}]},"axis":{"title":null,"format":"%d %b","values":[{"year":2025,"month":10,"date":1,"utc":true},{"year":2025,"month":10,"date":15,"utc":true},{"year":2025,"month":11,"date":1,"utc":true},{"year":2025,"month":11,"date":15,"utc":true},{"year":2025,"month":12,"date":1,"utc":true},{"year":2025,"month":12,"date":15,"utc":true},{"year":2026,"month":1,"date":1,"utc":true},{"year":2026,"month":1,"date":15,"utc":true}]}},"y":{"field":"v","type":"quantitative","scale":{"domain":[-4,4],"nice":false},"axis":{"title":"Index","values":[-4,-3,-2,-1,0,1,2,3,4]}},"detail":{"field":"m"}}},
{"data":{"name":"ensmean"},"mark":{"type":"line","color":"#111","strokeWidth":1.4,"strokeDash":[4,2]},"encoding":{"x":{"field":"date","type":"temporal","scale":{"type":"utc","nice":false,"domain":[{"year":2025,"month":9,"date":17,"utc":true},{"year":2026,"month":1,"date":28,"utc":true}]},"axis":{"title":null,"format":"%d %b","values":[{"year":2025,"month":10,"date":1,"utc":true},{"year":2025,"month":10,"date":15,"utc":true},{"year":2025,"month":11,"date":1,"utc":true},{"year":2025,"month":11,"date":15,"utc":true},{"year":2025,"month":12,"date":1,"utc":true},{"year":2025,"month":12,"date":15,"utc":true},{"year":2026,"month":1,"date":1,"utc":true},{"year":2026,"month":1,"date":15,"utc":true}]}},"y":{"field":"v","type":"quantitative","scale":{"domain":[-4,4],"nice":false},"axis":{"title":"Index","values":[-4,-3,-2,-1,0,1,2,3,4]}}}},
{"data":{"name":"obs"},"mark":{"type":"line","color":"#000","strokeWidth":1.8},"encoding":{"x":{"field":"date","type":"temporal","scale":{"type":"utc","nice":false,"domain":[{"year":2025,"month":9,"date":17,"utc":true},{"year":2026,"month":1,"date":28,"utc":true}]},"axis":{"title":null,"format":"%d %b","values":[{"year":2025,"month":10,"date":1,"utc":true},{"year":2025,"month":10,"date":15,"utc":true},{"year":2025,"month":11,"date":1,"utc":true},{"year":2025,"month":11,"date":15,"utc":true},{"year":2025,"month":12,"date":1,"utc":true},{"year":2025,"month":12,"date":15,"utc":true},{"year":2026,"month":1,"date":1,"utc":true},{"year":2026,"month":1,"date":15,"utc":true}]}},"y":{"field":"v","type":"quantitative","scale":{"domain":[-4,4],"nice":false},"axis":{"title":"Index","values":[-4,-3,-2,-1,0,1,2,3,4]}}}},
{"data":{"name":"labels"},"transform":[{"filter":"datum.p == 'obs' && datum.a == 'l'"}],"mark":{"type":"text","align":"left","fontSize":11.5},"encoding":{"x":{"field":"d","type":"temporal","scale":{"type":"utc","nice":false,"domain":[{"year":2025,"month":9,"date":17,"utc":true},{"year":2026,"month":1,"date":28,"utc":true}]},"axis":{"title":null,"format":"%d %b","values":[{"year":2025,"month":10,"date":1,"utc":true},{"year":2025,"month":10,"date":15,"utc":true},{"year":2025,"month":11,"date":1,"utc":true},{"year":2025,"month":11,"date":15,"utc":true},{"year":2025,"month":12,"date":1,"utc":true},{"year":2025,"month":12,"date":15,"utc":true},{"year":2026,"month":1,"date":1,"utc":true},{"year":2026,"month":1,"date":15,"utc":true}]}},"y":{"field":"y","type":"quantitative","scale":{"domain":[-4,4],"nice":false},"axis":{"title":"Index","values":[-4,-3,-2,-1,0,1,2,3,4]}},"text":{"field":"t"}}},
{"data":{"name":"labels"},"transform":[{"filter":"datum.p == 'obs' && datum.a == 'r'"}],"mark":{"type":"text","align":"right","fontSize":10},"encoding":{"x":{"field":"d","type":"temporal","scale":{"type":"utc","nice":false,"domain":[{"year":2025,"month":9,"date":17,"utc":true},{"year":2026,"month":1,"date":28,"utc":true}]},"axis":{"title":null,"format":"%d %b","values":[{"year":2025,"month":10,"date":1,"utc":true},{"year":2025,"month":10,"date":15,"utc":true},{"year":2025,"month":11,"date":1,"utc":true},{"year":2025,"month":11,"date":15,"utc":true},{"year":2025,"month":12,"date":1,"utc":true},{"year":2025,"month":12,"date":15,"utc":true},{"year":2026,"month":1,"date":1,"utc":true},{"year":2026,"month":1,"date":15,"utc":true}]}},"y":{"field":"y","type":"quantitative","scale":{"domain":[-4,4],"nice":false},"axis":{"title":"Index","values":[-4,-3,-2,-1,0,1,2,3,4]}},"text":{"field":"t"}}}
]
},
{
"width":561,"height":122,
"layer":[
{"data":{"name":"band"},"transform":[{"filter":"datum.p == '7'"}],"mark":{"type":"area","color":"#f8eb9c"},"encoding":{"x":{"field":"date","type":"temporal","scale":{"type":"utc","nice":false,"domain":[{"year":2025,"month":9,"date":17,"utc":true},{"year":2026,"month":1,"date":28,"utc":true}]},"axis":{"title":null,"format":"%d %b","values":[{"year":2025,"month":10,"date":1,"utc":true},{"year":2025,"month":10,"date":15,"utc":true},{"year":2025,"month":11,"date":1,"utc":true},{"year":2025,"month":11,"date":15,"utc":true},{"year":2025,"month":12,"date":1,"utc":true},{"year":2025,"month":12,"date":15,"utc":true},{"year":2026,"month":1,"date":1,"utc":true},{"year":2026,"month":1,"date":15,"utc":true}]}},"y":{"field":"lo2","type":"quantitative","scale":{"domain":[-4,4],"nice":false},"axis":{"title":"Index","values":[-4,-3,-2,-1,0,1,2,3,4]}},"y2":{"field":"hi2"}}},
{"data":{"name":"band"},"transform":[{"filter":"datum.p == '7'"}],"mark":{"type":"area","color":"#f1d23c"},"encoding":{"x":{"field":"date","type":"temporal","scale":{"type":"utc","nice":false,"domain":[{"year":2025,"month":9,"date":17,"utc":true},{"year":2026,"month":1,"date":28,"utc":true}]},"axis":{"title":null,"format":"%d %b","values":[{"year":2025,"month":10,"date":1,"utc":true},{"year":2025,"month":10,"date":15,"utc":true},{"year":2025,"month":11,"date":1,"utc":true},{"year":2025,"month":11,"date":15,"utc":true},{"year":2025,"month":12,"date":1,"utc":true},{"year":2025,"month":12,"date":15,"utc":true},{"year":2026,"month":1,"date":1,"utc":true},{"year":2026,"month":1,"date":15,"utc":true}]}},"y":{"field":"lo1","type":"quantitative","scale":{"domain":[-4,4],"nice":false},"axis":{"title":"Index","values":[-4,-3,-2,-1,0,1,2,3,4]}},"y2":{"field":"hi1"}}},
{"data":{"values":[{}]},"mark":{"type":"rule","color":"#777","strokeWidth":1},"encoding":{"y":{"datum":0,"type":"quantitative","scale":{"domain":[-4,4],"nice":false},"axis":{"title":"Index","values":[-4,-3,-2,-1,0,1,2,3,4]}}}},
{"data":{"name":"red"},"transform":[{"filter":"datum.p == '7'"}],"mark":{"type":"line","color":"#c4918c","strokeWidth":1},"encoding":{"x":{"field":"date","type":"temporal","scale":{"type":"utc","nice":false,"domain":[{"year":2025,"month":9,"date":17,"utc":true},{"year":2026,"month":1,"date":28,"utc":true}]},"axis":{"title":null,"format":"%d %b","values":[{"year":2025,"month":10,"date":1,"utc":true},{"year":2025,"month":10,"date":15,"utc":true},{"year":2025,"month":11,"date":1,"utc":true},{"year":2025,"month":11,"date":15,"utc":true},{"year":2025,"month":12,"date":1,"utc":true},{"year":2025,"month":12,"date":15,"utc":true},{"year":2026,"month":1,"date":1,"utc":true},{"year":2026,"month":1,"date":15,"utc":true}]}},"y":{"field":"v","type":"quantitative","scale":{"domain":[-4,4],"nice":false},"axis":{"title":"Index","values":[-4,-3,-2,-1,0,1,2,3,4]}},"detail":{"field":"s"}}},
{"data":{"name":"band"},"transform":[{"filter":"datum.p == '7'"}],"mark":{"type":"line","color":"#4a3f2a","strokeWidth":1.2},"encoding":{"x":{"field":"date","type":"temporal","scale":{"type":"utc","nice":false,"domain":[{"year":2025,"month":9,"date":17,"utc":true},{"year":2026,"month":1,"date":28,"utc":true}]},"axis":{"title":null,"format":"%d %b","values":[{"year":2025,"month":10,"date":1,"utc":true},{"year":2025,"month":10,"date":15,"utc":true},{"year":2025,"month":11,"date":1,"utc":true},{"year":2025,"month":11,"date":15,"utc":true},{"year":2025,"month":12,"date":1,"utc":true},{"year":2025,"month":12,"date":15,"utc":true},{"year":2026,"month":1,"date":1,"utc":true},{"year":2026,"month":1,"date":15,"utc":true}]}},"y":{"field":"mn","type":"quantitative","scale":{"domain":[-4,4],"nice":false},"axis":{"title":"Index","values":[-4,-3,-2,-1,0,1,2,3,4]}}}},
{"data":{"name":"obs"},"mark":{"type":"line","color":"#000","strokeWidth":1.8},"encoding":{"x":{"field":"date","type":"temporal","scale":{"type":"utc","nice":false,"domain":[{"year":2025,"month":9,"date":17,"utc":true},{"year":2026,"month":1,"date":28,"utc":true}]},"axis":{"title":null,"format":"%d %b","values":[{"year":2025,"month":10,"date":1,"utc":true},{"year":2025,"month":10,"date":15,"utc":true},{"year":2025,"month":11,"date":1,"utc":true},{"year":2025,"month":11,"date":15,"utc":true},{"year":2025,"month":12,"date":1,"utc":true},{"year":2025,"month":12,"date":15,"utc":true},{"year":2026,"month":1,"date":1,"utc":true},{"year":2026,"month":1,"date":15,"utc":true}]}},"y":{"field":"v","type":"quantitative","scale":{"domain":[-4,4],"nice":false},"axis":{"title":"Index","values":[-4,-3,-2,-1,0,1,2,3,4]}}}},
{"data":{"name":"labels"},"transform":[{"filter":"datum.p == '7' && datum.a == 'l'"}],"mark":{"type":"text","align":"left","fontSize":11.5},"encoding":{"x":{"field":"d","type":"temporal","scale":{"type":"utc","nice":false,"domain":[{"year":2025,"month":9,"date":17,"utc":true},{"year":2026,"month":1,"date":28,"utc":true}]},"axis":{"title":null,"format":"%d %b","values":[{"year":2025,"month":10,"date":1,"utc":true},{"year":2025,"month":10,"date":15,"utc":true},{"year":2025,"month":11,"date":1,"utc":true},{"year":2025,"month":11,"date":15,"utc":true},{"year":2025,"month":12,"date":1,"utc":true},{"year":2025,"month":12,"date":15,"utc":true},{"year":2026,"month":1,"date":1,"utc":true},{"year":2026,"month":1,"date":15,"utc":true}]}},"y":{"field":"y","type":"quantitative","scale":{"domain":[-4,4],"nice":false},"axis":{"title":"Index","values":[-4,-3,-2,-1,0,1,2,3,4]}},"text":{"field":"t"}}},
{"data":{"name":"labels"},"transform":[{"filter":"datum.p == '7' && datum.a == 'r'"}],"mark":{"type":"text","align":"right","fontSize":10},"encoding":{"x":{"field":"d","type":"temporal","scale":{"type":"utc","nice":false,"domain":[{"year":2025,"month":9,"date":17,"utc":true},{"year":2026,"month":1,"date":28,"utc":true}]},"axis":{"title":null,"format":"%d %b","values":[{"year":2025,"month":10,"date":1,"utc":true},{"year":2025,"month":10,"date":15,"utc":true},{"year":2025,"month":11,"date":1,"utc":true},{"year":2025,"month":11,"date":15,"utc":true},{"year":2025,"month":12,"date":1,"utc":true},{"year":2025,"month":12,"date":15,"utc":true},{"year":2026,"month":1,"date":1,"utc":true},{"year":2026,"month":1,"date":15,"utc":true}]}},"y":{"field":"y","type":"quantitative","scale":{"domain":[-4,4],"nice":false},"axis":{"title":"Index","values":[-4,-3,-2,-1,0,1,2,3,4]}},"text":{"field":"t"}}}
]
},
{
"width":561,"height":122,
"layer":[
{"data":{"name":"band"},"transform":[{"filter":"datum.p == '10'"}],"mark":{"type":"area","color":"#f8eb9c"},"encoding":{"x":{"field":"date","type":"temporal","scale":{"type":"utc","nice":false,"domain":[{"year":2025,"month":9,"date":17,"utc":true},{"year":2026,"month":1,"date":28,"utc":true}]},"axis":{"title":null,"format":"%d %b","values":[{"year":2025,"month":10,"date":1,"utc":true},{"year":2025,"month":10,"date":15,"utc":true},{"year":2025,"month":11,"date":1,"utc":true},{"year":2025,"month":11,"date":15,"utc":true},{"year":2025,"month":12,"date":1,"utc":true},{"year":2025,"month":12,"date":15,"utc":true},{"year":2026,"month":1,"date":1,"utc":true},{"year":2026,"month":1,"date":15,"utc":true}]}},"y":{"field":"lo2","type":"quantitative","scale":{"domain":[-4,4],"nice":false},"axis":{"title":"Index","values":[-4,-3,-2,-1,0,1,2,3,4]}},"y2":{"field":"hi2"}}},
{"data":{"name":"band"},"transform":[{"filter":"datum.p == '10'"}],"mark":{"type":"area","color":"#f3d63e"},"encoding":{"x":{"field":"date","type":"temporal","scale":{"type":"utc","nice":false,"domain":[{"year":2025,"month":9,"date":17,"utc":true},{"year":2026,"month":1,"date":28,"utc":true}]},"axis":{"title":null,"format":"%d %b","values":[{"year":2025,"month":10,"date":1,"utc":true},{"year":2025,"month":10,"date":15,"utc":true},{"year":2025,"month":11,"date":1,"utc":true},{"year":2025,"month":11,"date":15,"utc":true},{"year":2025,"month":12,"date":1,"utc":true},{"year":2025,"month":12,"date":15,"utc":true},{"year":2026,"month":1,"date":1,"utc":true},{"year":2026,"month":1,"date":15,"utc":true}]}},"y":{"field":"lo1","type":"quantitative","scale":{"domain":[-4,4],"nice":false},"axis":{"title":"Index","values":[-4,-3,-2,-1,0,1,2,3,4]}},"y2":{"field":"hi1"}}},
{"data":{"values":[{}]},"mark":{"type":"rule","color":"#777","strokeWidth":1},"encoding":{"y":{"datum":0,"type":"quantitative","scale":{"domain":[-4,4],"nice":false},"axis":{"title":"Index","values":[-4,-3,-2,-1,0,1,2,3,4]}}}},
{"data":{"name":"red"},"transform":[{"filter":"datum.p == '10'"}],"mark":{"type":"line","color":"#c4918c","strokeWidth":1},"encoding":{"x":{"field":"date","type":"temporal","scale":{"type":"utc","nice":false,"domain":[{"year":2025,"month":9,"date":17,"utc":true},{"year":2026,"month":1,"date":28,"utc":true}]},"axis":{"title":null,"format":"%d %b","values":[{"year":2025,"month":10,"date":1,"utc":true},{"year":2025,"month":10,"date":15,"utc":true},{"year":2025,"month":11,"date":1,"utc":true},{"year":2025,"month":11,"date":15,"utc":true},{"year":2025,"month":12,"date":1,"utc":true},{"year":2025,"month":12,"date":15,"utc":true},{"year":2026,"month":1,"date":1,"utc":true},{"year":2026,"month":1,"date":15,"utc":true}]}},"y":{"field":"v","type":"quantitative","scale":{"domain":[-4,4],"nice":false},"axis":{"title":"Index","values":[-4,-3,-2,-1,0,1,2,3,4]}},"detail":{"field":"s"}}},
{"data":{"name":"band"},"transform":[{"filter":"datum.p == '10'"}],"mark":{"type":"line","color":"#4a3f2a","strokeWidth":1.2},"encoding":{"x":{"field":"date","type":"temporal","scale":{"type":"utc","nice":false,"domain":[{"year":2025,"month":9,"date":17,"utc":true},{"year":2026,"month":1,"date":28,"utc":true}]},"axis":{"title":null,"format":"%d %b","values":[{"year":2025,"month":10,"date":1,"utc":true},{"year":2025,"month":10,"date":15,"utc":true},{"year":2025,"month":11,"date":1,"utc":true},{"year":2025,"month":11,"date":15,"utc":true},{"year":2025,"month":12,"date":1,"utc":true},{"year":2025,"month":12,"date":15,"utc":true},{"year":2026,"month":1,"date":1,"utc":true},{"year":2026,"month":1,"date":15,"utc":true}]}},"y":{"field":"mn","type":"quantitative","scale":{"domain":[-4,4],"nice":false},"axis":{"title":"Index","values":[-4,-3,-2,-1,0,1,2,3,4]}}}},
{"data":{"name":"obs"},"mark":{"type":"line","color":"#000","strokeWidth":1.8},"encoding":{"x":{"field":"date","type":"temporal","scale":{"type":"utc","nice":false,"domain":[{"year":2025,"month":9,"date":17,"utc":true},{"year":2026,"month":1,"date":28,"utc":true}]},"axis":{"title":null,"format":"%d %b","values":[{"year":2025,"month":10,"date":1,"utc":true},{"year":2025,"month":10,"date":15,"utc":true},{"year":2025,"month":11,"date":1,"utc":true},{"year":2025,"month":11,"date":15,"utc":true},{"year":2025,"month":12,"date":1,"utc":true},{"year":2025,"month":12,"date":15,"utc":true},{"year":2026,"month":1,"date":1,"utc":true},{"year":2026,"month":1,"date":15,"utc":true}]}},"y":{"field":"v","type":"quantitative","scale":{"domain":[-4,4],"nice":false},"axis":{"title":"Index","values":[-4,-3,-2,-1,0,1,2,3,4]}}}},
{"data":{"name":"labels"},"transform":[{"filter":"datum.p == '10' && datum.a == 'l'"}],"mark":{"type":"text","align":"left","fontSize":11.5},"encoding":{"x":{"field":"d","type":"temporal","scale":{"type":"utc","nice":false,"domain":[{"year":2025,"month":9,"date":17,"utc":true},{"year":2026,"month":1,"date":28,"utc":true}]},"axis":{"title":null,"format":"%d %b","values":[{"year":2025,"month":10,"date":1,"utc":true},{"year":2025,"month":10,"date":15,"utc":true},{"year":2025,"month":11,"date":1,"utc":true},{"year":2025,"month":11,"date":15,"utc":true},{"year":2025,"month":12,"date":1,"utc":true},{"year":2025,"month":12,"date":15,"utc":true},{"year":2026,"month":1,"date":1,"utc":true},{"year":2026,"month":1,"date":15,"utc":true}]}},"y":{"field":"y","type":"quantitative","scale":{"domain":[-4,4],"nice":false},"axis":{"title":"Index","values":[-4,-3,-2,-1,0,1,2,3,4]}},"text":{"field":"t"}}},
{"data":{"name":"labels"},"transform":[{"filter":"datum.p == '10' && datum.a == 'r'"}],"mark":{"type":"text","align":"right","fontSize":10},"encoding":{"x":{"field":"d","type":"temporal","scale":{"type":"utc","nice":false,"domain":[{"year":2025,"month":9,"date":17,"utc":true},{"year":2026,"month":1,"date":28,"utc":true}]},"axis":{"title":null,"format":"%d %b","values":[{"year":2025,"month":10,"date":1,"utc":true},{"year":2025,"month":10,"date":15,"utc":true},{"year":2025,"month":11,"date":1,"utc":true},{"year":2025,"month":11,"date":15,"utc":true},{"year":2025,"month":12,"date":1,"utc":true},{"year":2025,"month":12,"date":15,"utc":true},{"year":2026,"month":1,"date":1,"utc":true},{"year":2026,"month":1,"date":15,"utc":true}]}},"y":{"field":"y","type":"quantitative","scale":{"domain":[-4,4],"nice":false},"axis":{"title":"Index","values":[-4,-3,-2,-1,0,1,2,3,4]}},"text":{"field":"t"}}}
]
},
{
"width":561,"height":122,
"layer":[
{"data":{"name":"band"},"transform":[{"filter":"datum.p == '14'"}],"mark":{"type":"area","color":"#f8eb9c"},"encoding":{"x":{"field":"date","type":"temporal","scale":{"type":"utc","nice":false,"domain":[{"year":2025,"month":9,"date":17,"utc":true},{"year":2026,"month":1,"date":28,"utc":true}]},"axis":{"title":null,"format":"%d %b","values":[{"year":2025,"month":10,"date":1,"utc":true},{"year":2025,"month":10,"date":15,"utc":true},{"year":2025,"month":11,"date":1,"utc":true},{"year":2025,"month":11,"date":15,"utc":true},{"year":2025,"month":12,"date":1,"utc":true},{"year":2025,"month":12,"date":15,"utc":true},{"year":2026,"month":1,"date":1,"utc":true},{"year":2026,"month":1,"date":15,"utc":true}]}},"y":{"field":"lo2","type":"quantitative","scale":{"domain":[-4,4],"nice":false},"axis":{"title":"Index","values":[-4,-3,-2,-1,0,1,2,3,4]}},"y2":{"field":"hi2"}}},
{"data":{"name":"band"},"transform":[{"filter":"datum.p == '14'"}],"mark":{"type":"area","color":"#f5d840"},"encoding":{"x":{"field":"date","type":"temporal","scale":{"type":"utc","nice":false,"domain":[{"year":2025,"month":9,"date":17,"utc":true},{"year":2026,"month":1,"date":28,"utc":true}]},"axis":{"title":null,"format":"%d %b","values":[{"year":2025,"month":10,"date":1,"utc":true},{"year":2025,"month":10,"date":15,"utc":true},{"year":2025,"month":11,"date":1,"utc":true},{"year":2025,"month":11,"date":15,"utc":true},{"year":2025,"month":12,"date":1,"utc":true},{"year":2025,"month":12,"date":15,"utc":true},{"year":2026,"month":1,"date":1,"utc":true},{"year":2026,"month":1,"date":15,"utc":true}]}},"y":{"field":"lo1","type":"quantitative","scale":{"domain":[-4,4],"nice":false},"axis":{"title":"Index","values":[-4,-3,-2,-1,0,1,2,3,4]}},"y2":{"field":"hi1"}}},
{"data":{"values":[{}]},"mark":{"type":"rule","color":"#777","strokeWidth":1},"encoding":{"y":{"datum":0,"type":"quantitative","scale":{"domain":[-4,4],"nice":false},"axis":{"title":"Index","values":[-4,-3,-2,-1,0,1,2,3,4]}}}},
{"data":{"name":"red"},"transform":[{"filter":"datum.p == '14'"}],"mark":{"type":"line","color":"#c4918c","strokeWidth":1},"encoding":{"x":{"field":"date","type":"temporal","scale":{"type":"utc","nice":false,"domain":[{"year":2025,"month":9,"date":17,"utc":true},{"year":2026,"month":1,"date":28,"utc":true}]},"axis":{"title":null,"format":"%d %b","values":[{"year":2025,"month":10,"date":1,"utc":true},{"year":2025,"month":10,"date":15,"utc":true},{"year":2025,"month":11,"date":1,"utc":true},{"year":2025,"month":11,"date":15,"utc":true},{"year":2025,"month":12,"date":1,"utc":true},{"year":2025,"month":12,"date":15,"utc":true},{"year":2026,"month":1,"date":1,"utc":true},{"year":2026,"month":1,"date":15,"utc":true}]}},"y":{"field":"v","type":"quantitative","scale":{"domain":[-4,4],"nice":false},"axis":{"title":"Index","values":[-4,-3,-2,-1,0,1,2,3,4]}},"detail":{"field":"s"}}},
{"data":{"name":"band"},"transform":[{"filter":"datum.p == '14'"}],"mark":{"type":"line","color":"#4a3f2a","strokeWidth":1.2},"encoding":{"x":{"field":"date","type":"temporal","scale":{"type":"utc","nice":false,"domain":[{"year":2025,"month":9,"date":17,"utc":true},{"year":2026,"month":1,"date":28,"utc":true}]},"axis":{"title":null,"format":"%d %b","values":[{"year":2025,"month":10,"date":1,"utc":true},{"year":2025,"month":10,"date":15,"utc":true},{"year":2025,"month":11,"date":1,"utc":true},{"year":2025,"month":11,"date":15,"utc":true},{"year":2025,"month":12,"date":1,"utc":true},{"year":2025,"month":12,"date":15,"utc":true},{"year":2026,"month":1,"date":1,"utc":true},{"year":2026,"month":1,"date":15,"utc":true}]}},"y":{"field":"mn","type":"quantitative","scale":{"domain":[-4,4],"nice":false},"axis":{"title":"Index","values":[-4,-3,-2,-1,0,1,2,3,4]}}}},
{"data":{"name":"obs"},"mark":{"type":"line","color":"#000","strokeWidth":1.8},"encoding":{"x":{"field":"date","type":"temporal","scale":{"type":"utc","nice":false,"domain":[{"year":2025,"month":9,"date":17,"utc":true},{"year":2026,"month":1,"date":28,"utc":true}]},"axis":{"title":null,"format":"%d %b","values":[{"year":2025,"month":10,"date":1,"utc":true},{"year":2025,"month":10,"date":15,"utc":true},{"year":2025,"month":11,"date":1,"utc":true},{"year":2025,"month":11,"date":15,"utc":true},{"year":2025,"month":12,"date":1,"utc":true},{"year":2025,"month":12,"date":15,"utc":true},{"year":2026,"month":1,"date":1,"utc":true},{"year":2026,"month":1,"date":15,"utc":true}]}},"y":{"field":"v","type":"quantitative","scale":{"domain":[-4,4],"nice":false},"axis":{"title":"Index","values":[-4,-3,-2,-1,0,1,2,3,4]}}}},
{"data":{"name":"labels"},"transform":[{"filter":"datum.p == '14' && datum.a == 'l'"}],"mark":{"type":"text","align":"left","fontSize":11.5},"encoding":{"x":{"field":"d","type":"temporal","scale":{"type":"utc","nice":false,"domain":[{"year":2025,"month":9,"date":17,"utc":true},{"year":2026,"month":1,"date":28,"utc":true}]},"axis":{"title":null,"format":"%d %b","values":[{"year":2025,"month":10,"date":1,"utc":true},{"year":2025,"month":10,"date":15,"utc":true},{"year":2025,"month":11,"date":1,"utc":true},{"year":2025,"month":11,"date":15,"utc":true},{"year":2025,"month":12,"date":1,"utc":true},{"year":2025,"month":12,"date":15,"utc":true},{"year":2026,"month":1,"date":1,"utc":true},{"year":2026,"month":1,"date":15,"utc":true}]}},"y":{"field":"y","type":"quantitative","scale":{"domain":[-4,4],"nice":false},"axis":{"title":"Index","values":[-4,-3,-2,-1,0,1,2,3,4]}},"text":{"field":"t"}}},
{"data":{"name":"labels"},"transform":[{"filter":"datum.p == '14' && datum.a == 'r'"}],"mark":{"type":"text","align":"right","fontSize":10},"encoding":{"x":{"field":"d","type":"temporal","scale":{"type":"utc","nice":false,"domain":[{"year":2025,"month":9,"date":17,"utc":true},{"year":2026,"month":1,"date":28,"utc":true}]},"axis":{"title":null,"format":"%d %b","values":[{"year":2025,"month":10,"date":1,"utc":true},{"year":2025,"month":10,"date":15,"utc":true},{"year":2025,"month":11,"date":1,"utc":true},{"year":2025,"month":11,"date":15,"utc":true},{"year":2025,"month":12,"date":1,"utc":true},{"year":2025,"month":12,"date":15,"utc":true},{"year":2026,"month":1,"date":1,"utc":true},{"year":2026,"month":1,"date":15,"utc":true}]}},"y":{"field":"y","type":"quantitative","scale":{"domain":[-4,4],"nice":false},"axis":{"title":"Index","values":[-4,-3,-2,-1,0,1,2,3,4]}},"text":{"field":"t"}}}
]
}
]
}
